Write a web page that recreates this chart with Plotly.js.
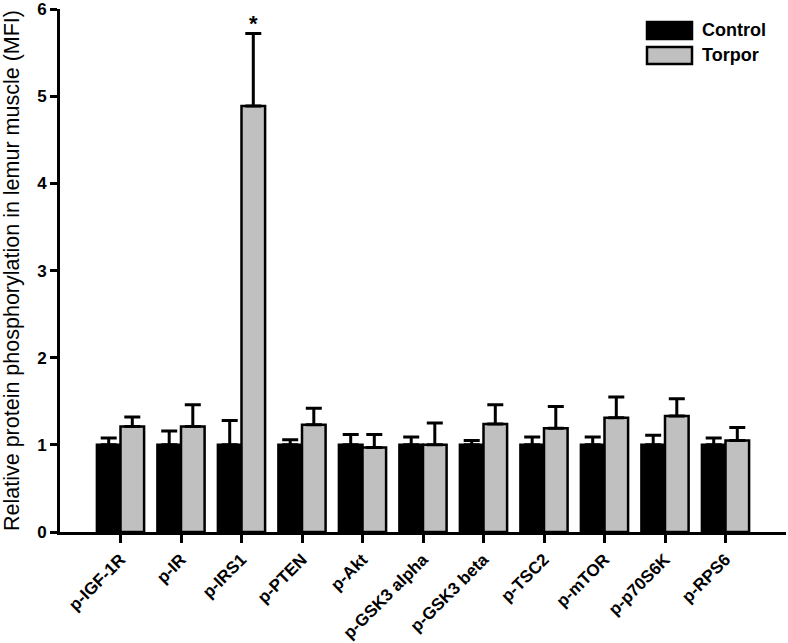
<!DOCTYPE html>
<html>
<head>
<meta charset="utf-8">
<script src="https://cdn.plot.ly/plotly-3.0.1.min.js"></script>
<style>html,body{margin:0;padding:0;background:#fff;}#chart{width:788px;height:643px;}</style>
</head>
<body>
<div id="chart"></div>
<script>
var categories = ["p-IGF-1R","p-IR","p-IRS1","p-PTEN","p-Akt","p-GSK3 alpha","p-GSK3 beta","p-TSC2","p-mTOR","p-p70S6K","p-RPS6"];
var controlValues = [1.00,1.00,1.00,1.00,1.00,1.00,1.00,1.00,1.00,1.00,1.00];
var controlErrors = [0.08,0.16,0.28,0.06,0.12,0.09,0.05,0.09,0.09,0.11,0.08];
var torporValues  = [1.21,1.21,4.89,1.23,0.97,1.00,1.24,1.19,1.31,1.33,1.05];
var torporErrors  = [0.11,0.25,0.83,0.19,0.15,0.25,0.22,0.25,0.24,0.20,0.15];
var significance  = ["","","*","","","","","","","",""];
var yTicks = [0,1,2,3,4,5,6];

var font = "Liberation Sans, Arial, Helvetica, sans-serif";

function errBar(arr){
  return {type:"data", array:arr, arrayminus:arr.map(function(){return 0;}), symmetric:false,
          visible:true, color:"#000", thickness:3, width:8};
}

var traces = [
  {type:"bar", name:"Control", x:categories, y:controlValues, error_y:errBar(controlErrors),
   marker:{color:"#000000", line:{color:"#000", width:2.5}}, showlegend:false},
  {type:"bar", name:"Torpor", x:categories, y:torporValues, error_y:errBar(torporErrors),
   marker:{color:"#c0c0c0", line:{color:"#000", width:2.5}}, showlegend:false}
];

var annotations = [];
significance.forEach(function(s,i){
  if(!s) return;
  annotations.push({x:categories[i], y:torporValues[i]+torporErrors[i], xref:"x", yref:"y",
    text:s, showarrow:false, xshift:12, yanchor:"bottom", yshift:-4,
    font:{family:font, size:22, color:"#000", weight:"bold"}});
});
// legend labels
var legendItems = [["Control","#000000"],["Torpor","#c0c0c0"]];
var shapes = [];
legendItems.forEach(function(it,k){
  var top = 22 + k*25;
  shapes.push({type:"rect", xref:"paper", yref:"paper",
    x0:(647-60)/726, x1:(692-60)/726, y0:1-(top+17-9)/523, y1:1-(top-9)/523,
    fillcolor:it[1], line:{color:"#000", width:2.5}});
  annotations.push({xref:"paper", yref:"paper", x:(700-60)/726, y:1-(top+8.5-9)/523,
    xanchor:"left", yanchor:"middle", showarrow:false, text:it[0],
    font:{family:font, size:18, color:"#000", weight:"bold"}});
});

var layout = {
  width:788, height:643,
  margin:{l:60, r:2, t:9, b:111},
  paper_bgcolor:"#fff", plot_bgcolor:"#fff",
  barmode:"group", bargap:0.22, bargroupgap:0,
  showlegend:false,
  font:{family:font, color:"#000"},
  xaxis:{type:"category", range:[-1,11], showline:true, linecolor:"#000", linewidth:3,
    ticks:"outside", ticklen:8, tickwidth:3, tickcolor:"#000", tickangle:-45,
    tickfont:{family:font, size:17, color:"#000", weight:"bold"}, showgrid:false, zeroline:false},
  yaxis:{range:[0,6.002], tickvals:yTicks, showline:true, linecolor:"#000", linewidth:3,
    ticks:"outside", ticklen:7, tickwidth:3, tickcolor:"#000",
    tickfont:{family:font, size:17, color:"#000", weight:"bold"}, showgrid:false, zeroline:false,
    title:{text:"Relative protein phosphorylation in lemur muscle (MFI)", standoff:12,
      font:{family:font, size:21.5, color:"#000"}}},
  annotations:annotations,
  shapes:shapes
};

Plotly.newPlot("chart", traces, layout, {displayModeBar:false, staticPlot:true});
</script>
</body>
</html>
